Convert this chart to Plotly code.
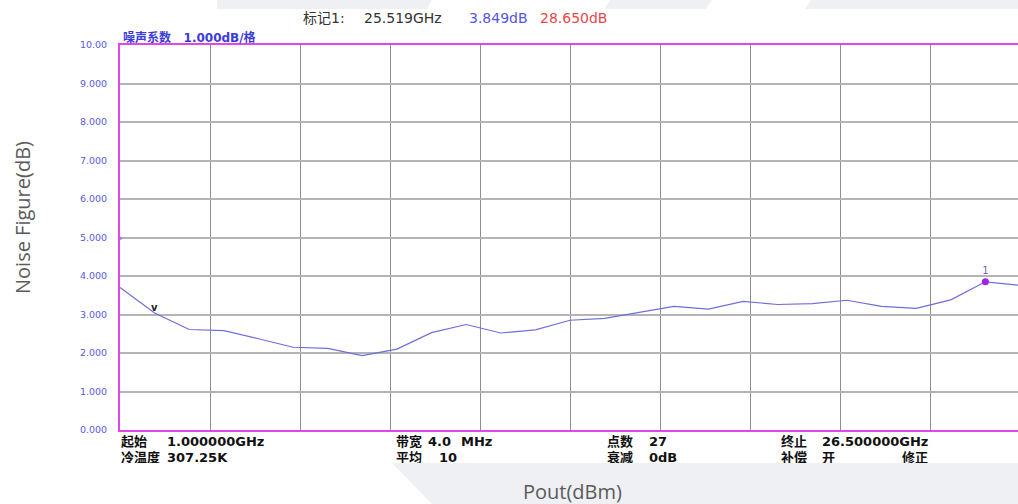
import plotly.graph_objects as go

# ---- data ----
freq_ghz = [1.000, 1.981, 2.962, 3.942, 4.923, 5.904, 6.885, 7.865, 8.846, 9.827,
            10.808, 11.788, 12.769, 13.750, 14.731, 15.712, 16.692, 17.673, 18.654,
            19.635, 20.615, 21.596, 22.577, 23.558, 24.538, 25.519, 26.500]
noise_fig = [3.70, 3.04, 2.61, 2.58, 2.37, 2.15, 2.12, 1.93, 2.10, 2.53, 2.74, 2.52,
             2.60, 2.85, 2.90, 3.06, 3.21, 3.14, 3.34, 3.26, 3.28, 3.37, 3.21, 3.16,
             3.38, 3.849, 3.76]
y_tick_vals = [0, 1, 2, 3, 4, 5, 6, 7, 8, 9, 10]
y_tick_text = ["0.000", "1.000", "2.000", "3.000", "4.000", "5.000", "6.000",
               "7.000", "8.000", "9.000", "10.00"]
x_grid_vals = [3.55, 6.10, 8.65, 11.20, 13.75, 16.30, 18.85, 21.40, 23.95, 26.50]
marker_freq = 25.519
marker_nf = 3.849
start_mark_freq = 1.981
start_mark_nf = 3.04

info_row1 = ["起始", "1.000000GHz", "带宽", "4.0", "MHz", "点数", "27", "终止", "26.500000GHz"]
info_row2 = ["冷温度", "307.25K", "平均", "10", "衰减", "0dB", "补偿", "开", "修正"]
info_x1 = [121, 167, 396, 428, 461, 607, 649, 781, 822]
info_x2 = [121, 167, 396, 439, 607, 649, 781, 822, 902]

W, H = 1018, 504
PL, PT, PB = 120, 45, 430
MAG = "#e444ec"


def px(x):
    return x / W


def py(y):
    return (H - y) / H


fig = go.Figure()

fig.add_trace(go.Scatter(
    x=freq_ghz, y=noise_fig, mode="lines",
    line=dict(color="#6e6edc", width=1.2),
    showlegend=False, hoverinfo="skip", cliponaxis=True,
))
fig.add_trace(go.Scatter(
    x=[marker_freq], y=[marker_nf], mode="markers+text",
    marker=dict(color="#a21ff0", size=7),
    text=["1"], textposition="top center",
    textfont=dict(color="#7b55e0", size=10, family="DejaVu Sans"),
    showlegend=False, hoverinfo="skip",
))

# bottom info text (clipped like the screenshot)
fig.add_trace(go.Scatter(
    x=info_x1 + info_x2,
    y=[443] * len(info_x1) + [459] * len(info_x2),
    text=info_row1 + info_row2,
    mode="text", textposition="middle right",
    textfont=dict(color="#111111", size=13, family="DejaVu Sans, Noto Sans CJK SC",
                  weight="bold"),
    xaxis="x2", yaxis="y2", cliponaxis=True,
    showlegend=False, hoverinfo="skip",
))

fig.update_layout(
    width=W, height=H,
    margin=dict(l=0, r=0, t=0, b=0, pad=0),
    paper_bgcolor="white", plot_bgcolor="white",
    xaxis=dict(
        domain=[px(PL), 1.0], range=[1.0, 1.0 + 25.5 * (W - PL) / 900.0],
        tickvals=x_grid_vals, showticklabels=False, ticks="",
        showgrid=True, gridcolor="#8e8e8e", gridwidth=1.3,
        zeroline=False, showline=True, linecolor=MAG, linewidth=2, mirror=True,
        automargin=False,
    ),
    yaxis=dict(
        domain=[py(PB), py(PT)], range=[0, 10],
        tickvals=y_tick_vals, ticktext=y_tick_text,
        tickfont=dict(color="#5a5ae2", size=9.5, family="DejaVu Sans"),
        ticks="", ticklabelstandoff=9,
        showgrid=True, gridcolor="#b4b4b4", gridwidth=1.5,
        zeroline=False, showline=True, linecolor=MAG, linewidth=2,
        automargin=False,
    ),
    xaxis2=dict(domain=[0, 1], range=[0, W], visible=False, anchor="y2",
                fixedrange=True),
    yaxis2=dict(domain=[py(463), py(432)], range=[463, 432], visible=False,
                anchor="x2", fixedrange=True),
    shapes=[
        # slide background watermarks
        dict(type="path", xref="paper", yref="paper", layer="below", line=dict(width=0),
             fillcolor="#eff0f3",
             path=f"M {px(217)} {py(0)} L {px(432)} {py(0)} L {px(427)} {py(9)} L {px(217)} {py(9)} Z"),
        dict(type="path", xref="paper", yref="paper", layer="below", line=dict(width=0),
             fillcolor="#eff0f3",
             path=f"M {px(610)} {py(0)} L {px(712)} {py(0)} L {px(706)} {py(9)} L {px(604)} {py(9)} Z"),
        dict(type="path", xref="paper", yref="paper", layer="below", line=dict(width=0),
             fillcolor="#eff0f3",
             path=f"M {px(811)} {py(0)} L {px(1018)} {py(0)} L {px(1018)} {py(9)} L {px(805)} {py(9)} Z"),
        dict(type="path", xref="paper", yref="paper", layer="below", line=dict(width=0),
             fillcolor="#eff0f3",
             path=f"M {px(392)} {py(463)} L {px(1018)} {py(463)} L {px(1018)} {py(504)} L {px(432)} {py(504)} Z"),
    ],
    annotations=[
        dict(text="噪声系数&nbsp;&nbsp;&nbsp;1.000dB/格", xref="paper", yref="paper",
             x=px(121), y=py(38), xanchor="left", yanchor="middle", showarrow=False,
             font=dict(color="#3b3bdc", size=12, family="DejaVu Sans, Noto Sans CJK SC",
                       weight="bold")),
        dict(text="标记1:", xref="paper", yref="paper", x=px(301), y=py(18),
             xanchor="left", yanchor="middle", showarrow=False,
             font=dict(color="#333333", size=14, family="DejaVu Sans, Noto Sans CJK SC")),
        dict(text="25.519GHz", xref="paper", yref="paper", x=px(362), y=py(18),
             xanchor="left", yanchor="middle", showarrow=False,
             font=dict(color="#333333", size=14, family="DejaVu Sans")),
        dict(text="3.849dB", xref="paper", yref="paper", x=px(467), y=py(18),
             xanchor="left", yanchor="middle", showarrow=False,
             font=dict(color="#5656e0", size=14, family="DejaVu Sans")),
        dict(text="28.650dB", xref="paper", yref="paper", x=px(538), y=py(18),
             xanchor="left", yanchor="middle", showarrow=False,
             font=dict(color="#e84848", size=14, family="DejaVu Sans")),
        dict(text="v", x=start_mark_freq, y=start_mark_nf, xref="x", yref="y",
             yshift=5, showarrow=False,
             font=dict(color="#222222", size=10, family="DejaVu Sans", weight="bold")),
        dict(text="›", xref="paper", yref="y", x=px(117), y=5, showarrow=False,
             font=dict(color="#5a5ae2", size=9, family="DejaVu Sans")),
        dict(text="Noise Figure(dB)", xref="paper", yref="paper", x=px(22), y=py(218),
             textangle=-90, showarrow=False, xanchor="center", yanchor="middle",
             font=dict(color="#5a5a5a", size=20, family="Open Sans")),
        dict(text="Pout(dBm)", xref="paper", yref="paper", x=px(572), y=py(491),
             showarrow=False, xanchor="center", yanchor="middle",
             font=dict(color="#5a5a5a", size=20, family="Open Sans")),
    ],
)

fig.write_html("out.html", config={"displayModeBar": False},
               post_script="document.body.style.margin='0px';")
